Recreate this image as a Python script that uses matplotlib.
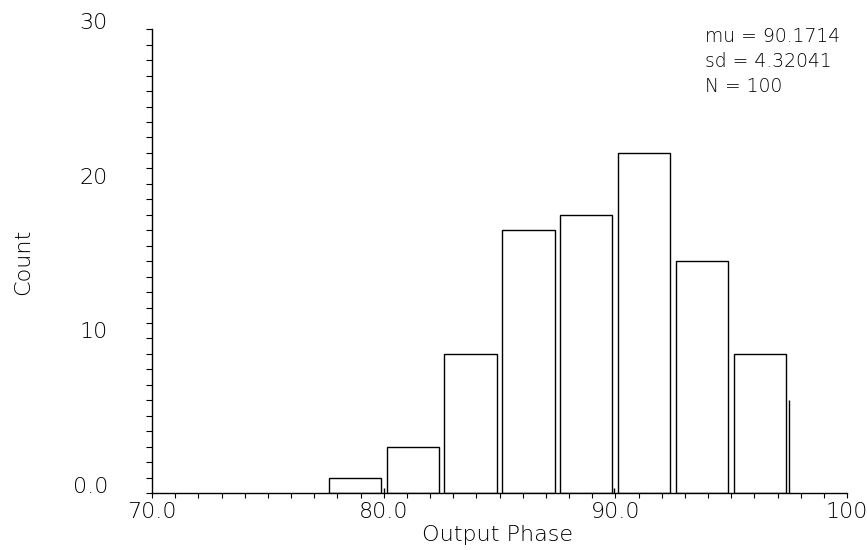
import numpy as np
from matplotlib import pyplot as plt
from matplotlib.ticker import MultipleLocator

# histogram of output phase
bin_left = [77.5, 80.0, 82.5, 85.0, 87.5, 90.0, 92.5, 95.0]
counts = [1, 3, 9, 17, 18, 22, 15, 9]
bin_width = 2.5

# stray vertical strokes seen in the plot
stray_x = [80.0, 89.95, 97.48]
stray_h = [0.3, 0.3, 6.0]

stats = ["mu = 90.1714", "sd = 4.32041", "N = 100"]

x_ticks = [70, 80, 90, 100]
x_labels = ["70.0", "80.0", "90.0", "100"]
y_ticks = [0, 10, 20, 30]
y_labels = ["0.0", "10", "20", "30"]

plt.rcParams['font.family'] = ['DejaVu Sans']
plt.rcParams['font.weight'] = 200

W, H = 867, 550
fig = plt.figure(figsize=(W / 100, H / 100), dpi=100)
ax = fig.add_axes([152 / W, (H - 493) / H, (847 - 152) / W, (493 - 29.3) / H])

centers = np.array(bin_left) + bin_width / 2
ax.bar(centers, counts, width=bin_width * 0.9, facecolor='white',
       edgecolor='black', linewidth=1.0)
ax.vlines(stray_x, 0, stray_h, color='black', linewidth=1.0)

ax.set_xlim(70, 100)
ax.set_ylim(0, 30)
for s in ['top', 'right']:
    ax.spines[s].set_visible(False)
for s in ['left', 'bottom']:
    ax.spines[s].set_linewidth(1.0)

ax.set_xticks(x_ticks)
ax.set_xticklabels(x_labels, fontsize=16, fontweight=200, color='black')
ax.xaxis.set_minor_locator(MultipleLocator(1))
ax.set_yticks(y_ticks)
ax.set_yticklabels(y_labels, fontsize=16, fontweight=200, va='baseline', color='black')
ax.yaxis.set_minor_locator(MultipleLocator(1))

ax.tick_params(axis='x', which='both', direction='out', length=3.6, width=0.8, pad=2.9)
ax.tick_params(axis='y', which='both', direction='out', length=4.3, width=0.8, pad=27.4)

fig.text(23 / W, 1 - 262 / H, "Count", rotation=90, ha='center', va='center',
         fontsize=16, fontweight=200)
fig.text(498 / W, 1 - 535 / H, "Output Phase", ha='center', va='center',
         fontsize=16, fontweight=200)
fig.text(705 / W, 1 - 27 / H, "\n".join(stats), ha='left', va='top', fontsize=13.5,
         fontweight=200, linespacing=1.4)

fig.savefig("out.png", dpi=100)
